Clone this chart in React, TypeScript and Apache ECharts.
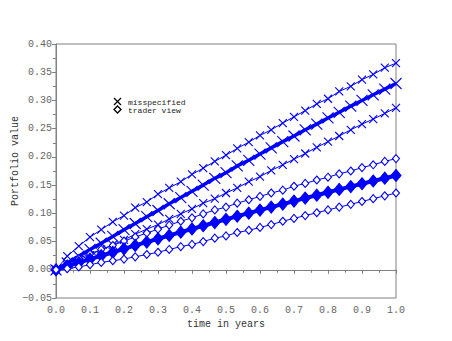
import React, { useEffect, useRef } from "react";
import * as echarts from "echarts";

const times = [0, 0.033, 0.067, 0.1, 0.133, 0.167, 0.2, 0.233, 0.267, 0.3, 0.333, 0.367, 0.4, 0.433, 0.467, 0.5, 0.533, 0.567, 0.6, 0.633, 0.667, 0.7, 0.733, 0.767, 0.8, 0.833, 0.867, 0.9, 0.933, 0.967, 1.0];

const misUpper = [0, 0.024, 0.042, 0.058, 0.071, 0.085, 0.096, 0.11, 0.12, 0.134, 0.145, 0.156, 0.169, 0.18, 0.192, 0.203, 0.215, 0.226, 0.238, 0.248, 0.26, 0.271, 0.282, 0.294, 0.303, 0.316, 0.325, 0.337, 0.346, 0.358, 0.366];
const misMean = [0, 0.012, 0.024, 0.036, 0.047, 0.059, 0.071, 0.082, 0.094, 0.105, 0.117, 0.128, 0.139, 0.15, 0.162, 0.172, 0.184, 0.194, 0.205, 0.216, 0.227, 0.237, 0.248, 0.258, 0.269, 0.279, 0.29, 0.3, 0.31, 0.32, 0.33];
const misLower = [0, 0.008, 0.017, 0.026, 0.036, 0.044, 0.053, 0.063, 0.072, 0.08, 0.09, 0.099, 0.108, 0.118, 0.126, 0.136, 0.145, 0.156, 0.165, 0.176, 0.186, 0.196, 0.206, 0.217, 0.227, 0.237, 0.248, 0.258, 0.267, 0.277, 0.287];

const trUpper = [0, 0.01, 0.02, 0.028, 0.036, 0.043, 0.051, 0.058, 0.065, 0.072, 0.079, 0.086, 0.092, 0.099, 0.106, 0.111, 0.118, 0.124, 0.13, 0.136, 0.141, 0.148, 0.153, 0.159, 0.164, 0.17, 0.175, 0.181, 0.186, 0.192, 0.197];
const trMean = [0, 0.0063, 0.0126, 0.0188, 0.0249, 0.031, 0.0371, 0.0431, 0.049, 0.0549, 0.0608, 0.0666, 0.0723, 0.078, 0.0837, 0.0893, 0.0948, 0.1003, 0.1057, 0.1111, 0.1164, 0.1217, 0.127, 0.1321, 0.1373, 0.1424, 0.1474, 0.1524, 0.1573, 0.1622, 0.167];
const trLower = [0, 0.002, 0.005, 0.009, 0.013, 0.016, 0.019, 0.023, 0.027, 0.031, 0.036, 0.041, 0.045, 0.05, 0.056, 0.06, 0.066, 0.07, 0.075, 0.08, 0.086, 0.091, 0.096, 0.101, 0.106, 0.111, 0.116, 0.121, 0.126, 0.131, 0.136];

const legendLabels = ["misspecified", "trader view"];
const xTitle = "time in years";
const yTitle = "Portfolio value";

const BLUE = "#0000ff";
const FONT = "Liberation Mono, DejaVu Sans Mono, monospace";
const CROSS = "path://M0,0L10,10M10,0L0,10";

const pairs = (vals: number[]) => times.map((t, i) => [t, vals[i]]);

export default function App() {
  const ref = useRef<HTMLDivElement>(null);
  useEffect(() => {
    if (!ref.current) return;
    const chart = echarts.init(ref.current, null, { renderer: "svg" });
    const crossSeries = (vals: number[], width: number, size: number) => ({
      type: "line",
      data: pairs(vals),
      symbol: CROSS,
      symbolSize: size,
      showSymbol: true,
      lineStyle: { color: BLUE, width },
      itemStyle: { color: BLUE, borderColor: BLUE, borderWidth: 1.1 },
      z: 3,
    });
    const diamondSeries = (vals: number[], width: number, size: number[], filled: boolean) => ({
      type: "line",
      data: pairs(vals),
      symbol: "diamond",
      symbolSize: size,
      showSymbol: true,
      lineStyle: { color: BLUE, width },
      itemStyle: { color: filled ? BLUE : "#ffffff", borderColor: BLUE, borderWidth: 1.1 },
      z: 3,
    });
    chart.setOption({
      animation: false,
      backgroundColor: "#ffffff",
      grid: { left: 56, right: 56, top: 44, bottom: 43, show: true, borderColor: "#808080", borderWidth: 1 },
      xAxis: {
        type: "value",
        min: 0,
        max: 1,
        interval: 0.1,
        axisLine: { show: true, lineStyle: { color: "#808080" } },
        axisTick: { show: true, length: 4, lineStyle: { color: "#808080" } },
        minorTick: { show: true, splitNumber: 2, length: 3, lineStyle: { color: "#808080" } },
        splitLine: { show: false },
        axisLabel: { color: "#666", fontFamily: FONT, fontSize: 10, margin: 7, formatter: (v: number) => v.toFixed(1) },
      },
      yAxis: {
        type: "value",
        min: -0.05,
        max: 0.4,
        interval: 0.05,
        axisLine: { show: true, lineStyle: { color: "#808080" } },
        axisTick: { show: true, length: 4, lineStyle: { color: "#808080" } },
        minorTick: { show: true, splitNumber: 2, length: 3, lineStyle: { color: "#808080" } },
        splitLine: { show: false },
        axisLabel: { color: "#666", fontFamily: FONT, fontSize: 10, margin: 4, formatter: (v: number) => v.toFixed(2).replace("-", "\u2212") },
      },
      series: [
        crossSeries(misUpper, 1, 8),
        crossSeries(misMean, 3.5, 11),
        crossSeries(misLower, 1, 8),
        diamondSeries(trUpper, 1, [7, 8], false),
        diamondSeries(trMean, 4, [10, 12], true),
        diamondSeries(trLower, 1, [7, 8], false),
      ],
      graphic: [
        { type: "line", shape: { x1: 114, y1: 98, x2: 121, y2: 105 }, style: { stroke: "#000", lineWidth: 1.3 } },
        { type: "line", shape: { x1: 121, y1: 98, x2: 114, y2: 105 }, style: { stroke: "#000", lineWidth: 1.3 } },
        { type: "polygon", shape: { points: [[117.5, 106], [121, 109.5], [117.5, 113], [114, 109.5]] }, style: { fill: "#fff", stroke: "#000", lineWidth: 1.3 } },
        { type: "text", x: 128, y: 102, style: { text: legendLabels[0], font: `8px ${FONT}`, fill: "#222", verticalAlign: "middle" } },
        { type: "text", x: 128, y: 110, style: { text: legendLabels[1], font: `8px ${FONT}`, fill: "#222", verticalAlign: "middle" } },
        { type: "text", x: 226, y: 324, style: { text: xTitle, font: `10px ${FONT}`, fill: "#333", align: "center", verticalAlign: "middle" } },
        { type: "text", x: 15, y: 161, rotation: Math.PI / 2, style: { text: yTitle, font: `10px ${FONT}`, fill: "#333", align: "center", verticalAlign: "middle" } },
      ],
    });
    return () => chart.dispose();
  }, []);
  return <div ref={ref} style={{ position: "absolute", left: 0, top: 0, width: 452, height: 341 }} />;
}
